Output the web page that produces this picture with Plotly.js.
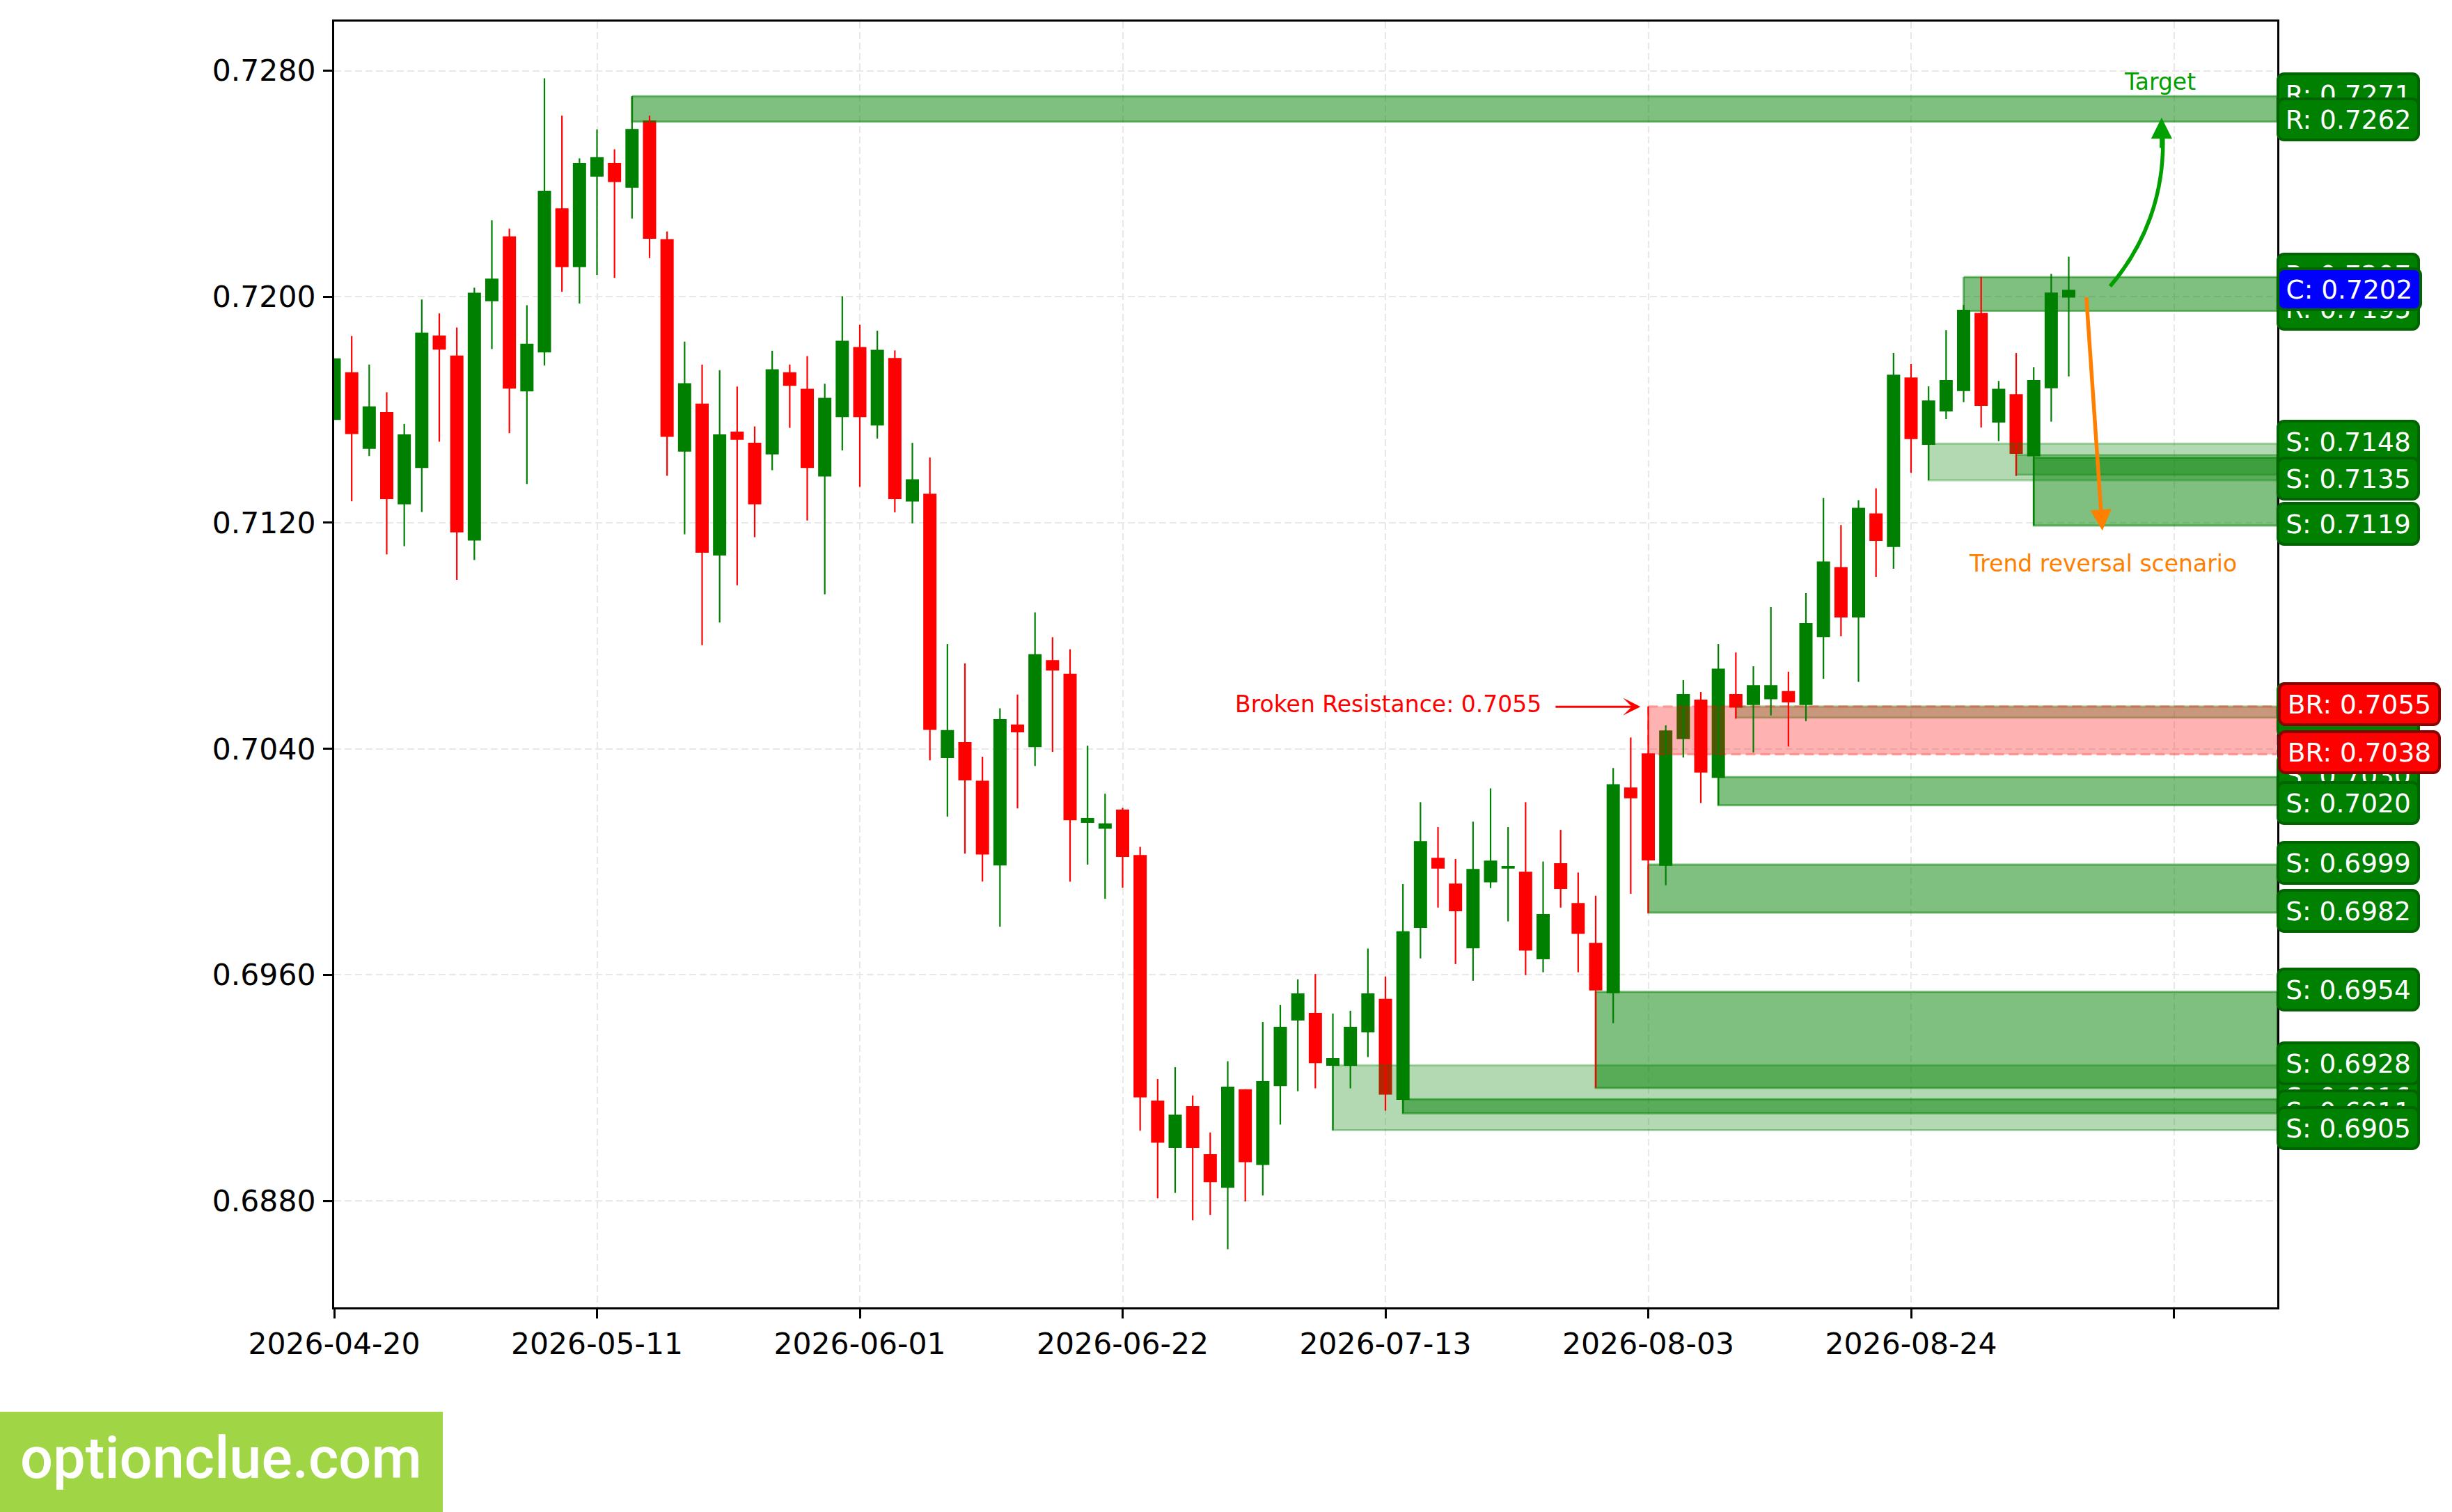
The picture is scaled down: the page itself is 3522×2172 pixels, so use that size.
<!DOCTYPE html>
<html>
<head>
<meta charset="utf-8">
<script src="https://cdn.plot.ly/plotly-3.0.1.min.js"></script>
<style>
	html, body { margin: 0; padding: 0; background: #ffffff; }
</style>
</head>
<body>
<div id="chart" style="width:3522px;height:2172px"></div>
<script>
const opens = [
	0.71564, 0.71733, 0.71462, 0.71592, 0.71265, 0.71394, 0.71863, 0.71792, 0.71137, 0.71984,
	0.72214, 0.71665, 0.71803, 0.72313, 0.72105, 0.72425, 0.72474, 0.72386, 0.72624, 0.72204,
	0.71452, 0.71622, 0.71084, 0.71523, 0.71483, 0.71442, 0.71733, 0.71674, 0.71364, 0.71574,
	0.71822, 0.71544, 0.71783, 0.71275, 0.71303, 0.70367, 0.70424, 0.70287, 0.69987, 0.70486,
	0.70406, 0.70714, 0.70666, 0.70138, 0.70117, 0.70185, 0.70024, 0.69155, 0.68987, 0.69135,
	0.68965, 0.68846, 0.69195, 0.68927, 0.69206, 0.69438, 0.69465, 0.69278, 0.69278, 0.69396,
	0.69515, 0.69157, 0.69766, 0.70014, 0.69923, 0.69694, 0.69927, 0.69976, 0.69965, 0.69655,
	0.69995, 0.69854, 0.69713, 0.69535, 0.70263, 0.70384, 0.69986, 0.70434, 0.70574, 0.70297,
	0.70594, 0.70555, 0.70575, 0.70604, 0.70555, 0.70795, 0.71043, 0.70865, 0.71233, 0.71114,
	0.71714, 0.71476, 0.71594, 0.71666, 0.71943, 0.71555, 0.71655, 0.71435, 0.71676, 0.71997
];
const highs = [
	0.71782, 0.71861, 0.71760, 0.71662, 0.71550, 0.71990, 0.71941, 0.71891, 0.72032, 0.72271,
	0.72241, 0.71970, 0.72773, 0.72641, 0.72490, 0.72592, 0.72522, 0.72710, 0.72641, 0.72231,
	0.71841, 0.71760, 0.71740, 0.71682, 0.71541, 0.71809, 0.71760, 0.71790, 0.71692, 0.72002,
	0.71901, 0.71880, 0.71810, 0.71483, 0.71431, 0.70771, 0.70702, 0.70372, 0.70543, 0.70592,
	0.70883, 0.70795, 0.70752, 0.70411, 0.70241, 0.70191, 0.70053, 0.69231, 0.69273, 0.69173,
	0.69042, 0.69294, 0.69195, 0.69433, 0.69493, 0.69584, 0.69603, 0.69463, 0.69473, 0.69693,
	0.69594, 0.69921, 0.70211, 0.70123, 0.70010, 0.70142, 0.70260, 0.70123, 0.70211, 0.70001,
	0.70113, 0.69962, 0.69880, 0.70332, 0.70440, 0.70550, 0.70483, 0.70643, 0.70601, 0.70771,
	0.70741, 0.70692, 0.70902, 0.70673, 0.70951, 0.71288, 0.71192, 0.71280, 0.71322, 0.71801,
	0.71762, 0.71683, 0.71882, 0.71971, 0.72070, 0.71702, 0.71801, 0.71751, 0.72081, 0.72142
];
const lows = [
	0.71564, 0.71276, 0.71436, 0.71088, 0.71117, 0.71238, 0.71487, 0.70998, 0.71068, 0.71815,
	0.71517, 0.71337, 0.71757, 0.72018, 0.71976, 0.72077, 0.72067, 0.72277, 0.72137, 0.71366,
	0.71159, 0.70767, 0.70847, 0.70979, 0.71149, 0.71386, 0.71536, 0.71208, 0.70947, 0.71456,
	0.71327, 0.71498, 0.71237, 0.71198, 0.70359, 0.70160, 0.70029, 0.69930, 0.69770, 0.70189,
	0.70339, 0.70389, 0.69930, 0.69990, 0.69869, 0.69908, 0.69048, 0.68809, 0.68828, 0.68731,
	0.68750, 0.68629, 0.68798, 0.68819, 0.69070, 0.69188, 0.69198, 0.69050, 0.69198, 0.69309,
	0.69119, 0.69110, 0.69658, 0.69838, 0.69638, 0.69579, 0.69907, 0.69789, 0.69599, 0.69609,
	0.69838, 0.69609, 0.69200, 0.69429, 0.69887, 0.69818, 0.69917, 0.70369, 0.70208, 0.70200,
	0.70507, 0.70387, 0.70518, 0.70408, 0.70498, 0.70648, 0.70798, 0.70637, 0.71008, 0.71037,
	0.71377, 0.71350, 0.71567, 0.71627, 0.71537, 0.71489, 0.71366, 0.71190, 0.71558, 0.71718
];
const closes = [
	0.71782, 0.71514, 0.71612, 0.71284, 0.71513, 0.71873, 0.71813, 0.71166, 0.72014, 0.72064,
	0.71675, 0.71834, 0.72375, 0.72105, 0.72474, 0.72494, 0.72406, 0.72594, 0.72205, 0.71504,
	0.71694, 0.71094, 0.71513, 0.71494, 0.71265, 0.71743, 0.71685, 0.71394, 0.71642, 0.71844,
	0.71574, 0.71812, 0.71284, 0.71354, 0.70467, 0.70466, 0.70288, 0.70026, 0.70505, 0.70458,
	0.70735, 0.70677, 0.70147, 0.70155, 0.70136, 0.70017, 0.69166, 0.69006, 0.69105, 0.68987,
	0.68866, 0.69204, 0.68937, 0.69224, 0.69416, 0.69534, 0.69287, 0.69305, 0.69416, 0.69534,
	0.69176, 0.69754, 0.70073, 0.69976, 0.69825, 0.69975, 0.70004, 0.69985, 0.69686, 0.69815,
	0.69904, 0.69745, 0.69545, 0.70275, 0.70225, 0.70005, 0.70465, 0.70594, 0.70316, 0.70684,
	0.70546, 0.70625, 0.70625, 0.70564, 0.70845, 0.71063, 0.70865, 0.71253, 0.71136, 0.71724,
	0.71496, 0.71633, 0.71705, 0.71954, 0.71614, 0.71674, 0.71444, 0.71705, 0.72015, 0.72025
];

const xTickPos = [0, 15, 30, 45, 60, 75, 90, 105];
const xTickText = ["2026-04-20", "2026-05-11", "2026-06-01", "2026-06-22", "2026-07-13", "2026-08-03", "2026-08-24", ""];
const yTicks = [0.6880, 0.6960, 0.7040, 0.7120, 0.7200, 0.7280];

// zones: first candle, top price, bottom price, fill alpha
const zoneStart = [17, 93, 91, 96, 97, 80, 79, 75, 72, 57, 61];
const zoneTop = [0.7271, 0.7207, 0.7148, 0.7144, 0.7143, 0.7055, 0.7030, 0.6999, 0.6954, 0.6928, 0.6916];
const zoneBottom = [0.7262, 0.7195, 0.7135, 0.7137, 0.7119, 0.7051, 0.7020, 0.6982, 0.6920, 0.6905, 0.6911];
const zoneAlpha = [0.5, 0.5, 0.3, 0.3, 0.5, 0.3, 0.5, 0.5, 0.5, 0.3, 0.5];

// price tags in drawing order, last one on top
const tagPrefix = ["R", "R", "R", "R", "S", "S", "S", "S", "S", "S", "S", "S", "S", "S", "S", "S", "S", "S", "S", "S", "S", "S", "BR", "BR", "C"];
const tagPrice = [0.7271, 0.7262, 0.7207, 0.7195, 0.7144, 0.7143, 0.7137, 0.7148, 0.7135, 0.7119, 0.7055, 0.7051, 0.7030, 0.7020, 0.6999, 0.6982, 0.6954, 0.6920, 0.6916, 0.6911, 0.6905, 0.6928, 0.7055, 0.7038, 0.7202];

const xEnd = 110.9;
const brokenStart = 75;
const brokenTop = 0.7055;
const brokenBottom = 0.7038;

function zoneTrace(start, top, bottom, col, dash) {
	return {
		type: "scatter", mode: "lines", hoverinfo: "skip",
		x: [start, xEnd, xEnd, start, start],
		y: [top, top, bottom, bottom, top],
		fill: "toself", fillcolor: col,
		line: {color: col, width: 3, dash: dash}
	};
}

function wickTrace(col, wanted) {
	let x = [], y = [];
	for (let i = 1; i < opens.length; i++) {
		if (wanted(i)) {
			x.push(i, i, null);
			y.push(highs[i], lows[i], null);
		}
	}
	return {type: "scatter", mode: "lines", hoverinfo: "skip", x: x, y: y, line: {color: col, width: 2.2}};
}

// bodies lie under the zones, wicks on top of them
let traces = [{
	type: "candlestick",
	x: opens.map((v, i) => i),
	open: opens, high: highs, low: lows, close: closes,
	whiskerwidth: 0,
	increasing: {line: {color: "#008000", width: 0}, fillcolor: "#008000"},
	decreasing: {line: {color: "#ff0000", width: 0}, fillcolor: "#ff0000"},
	hoverinfo: "skip"
}];
for (let i = 0; i < zoneStart.length; i++) {
	traces.push(zoneTrace(zoneStart[i], zoneTop[i], zoneBottom[i], "rgba(0,128,0," + zoneAlpha[i] + ")", "solid"));
}
traces.push(zoneTrace(brokenStart, brokenTop, brokenBottom, "rgba(255,0,0,0.3)", "14px,7px"));
traces.push(wickTrace("#008000", i => closes[i] >= opens[i]));
traces.push(wickTrace("#ff0000", i => closes[i] < opens[i]));

let shapes = [];
// curved target arrow
shapes.push({
	type: "path", xref: "x", yref: "y", layer: "above",
	path: "M 101.36 0.72037 C 103.34 0.72181 104.47 0.72361 104.37 0.7257",
	line: {color: "#00a000", width: 5.5}
});
// watermark box
shapes.push({
	type: "rect", xref: "paper", yref: "paper", layer: "above",
	x0: -480 / 2791, x1: 156 / 2791, y0: -294 / 1847, y1: -150 / 1847,
	fillcolor: "#a0d646",
	line: {width: 0}
});

let annotations = [];
for (let i = 0; i < tagPrice.length; i++) {
	let kind = tagPrefix[i];
	annotations.push({
		xref: "paper", yref: "y", x: 1, xshift: kind == "BR" ? 1 : -1, yshift: 3, y: tagPrice[i],
		xanchor: "left", yanchor: "middle", showarrow: false,
		text: kind + ": " + tagPrice[i].toFixed(4),
		font: {family: "DejaVu Sans", size: 37.5, color: "#ffffff"},
		bgcolor: kind == "BR" ? "#ff0000" : (kind == "C" ? "#0000ff" : "#008000"),
		bordercolor: kind == "BR" ? "#8b0000" : "#006400",
		borderwidth: 4,
		borderpad: 0,
		width: kind == "BR" ? 226 : (kind == "C" ? 201 : 198),
		height: 55
	});
}
annotations.push({
	xref: "x", yref: "y", x: 68.96, y: 0.70559, xanchor: "right", yanchor: "middle", showarrow: false,
	text: "Broken Resistance: 0.7055", font: {family: "DejaVu Sans", size: 33, color: "#ff0000"}
});
annotations.push({
	xref: "x", yref: "y", x: 74.56, y: 0.70549, axref: "x", ayref: "y", ax: 69.65, ay: 0.70549,
	text: "", showarrow: true, arrowhead: 3, arrowsize: 1.4, arrowwidth: 3, arrowcolor: "#ff0000"
});
annotations.push({
	xref: "x", yref: "y", x: 104.2, y: 0.72762, xanchor: "center", yanchor: "middle", showarrow: false,
	text: "Target", font: {family: "DejaVu Sans", size: 33, color: "#00a000"}
});
annotations.push({
	xref: "x", yref: "y", x: 104.3, y: 0.72634, ax: 0, ay: 45,
	text: "", showarrow: true, arrowhead: 2, arrowsize: 1.1, arrowwidth: 5.5, arrowcolor: "#00a000"
});
annotations.push({
	xref: "x", yref: "y", x: 100.96, y: 0.71057, xanchor: "center", yanchor: "middle", showarrow: false,
	text: "Trend reversal scenario", font: {family: "DejaVu Sans", size: 33, color: "#ff8000"}
});
annotations.push({
	xref: "x", yref: "y", x: 100.92, y: 0.71172, axref: "x", ayref: "y", ax: 100, ay: 0.72002,
	text: "", showarrow: true, arrowhead: 2, arrowsize: 1.1, arrowwidth: 5.5, arrowcolor: "#ff8000"
});
annotations.push({
	xref: "paper", yref: "paper", x: -162.5 / 2791, y: -216 / 1847,
	xanchor: "center", yanchor: "middle", showarrow: false,
	text: "optionclue.com", font: {family: "Roboto", size: 83, weight: 500, color: "#ffffff"}
});

let layout = {
	width: 3522, height: 2172,
	paper_bgcolor: "#ffffff", plot_bgcolor: "#ffffff",
	margin: {l: 480, r: 251, t: 31, b: 294, pad: 0},
	showlegend: false,
	boxgap: 0.245,
	boxgroupgap: 0,
	font: {family: "DejaVu Sans", size: 42.5, color: "#000000"},
	xaxis: {
		type: "linear", range: [0, xEnd],
		tickmode: "array", tickvals: xTickPos, ticktext: xTickText,
		ticks: "outside", ticklen: 13, tickwidth: 3, tickcolor: "#000000",
		showgrid: true, gridcolor: "#e8e8e8", gridwidth: 2, griddash: "10px,5px",
		showline: true, linecolor: "#000000", linewidth: 3, mirror: true,
		zeroline: false,
		rangeslider: {visible: false}
	},
	yaxis: {
		type: "linear", range: [0.68423, 0.72974],
		tickmode: "array", tickvals: yTicks, ticktext: yTicks.map(v => v.toFixed(4)),
		ticks: "outside", ticklen: 13, tickwidth: 3, tickcolor: "#000000", ticklabelstandoff: 2,
		showgrid: true, gridcolor: "#e8e8e8", gridwidth: 2, griddash: "10px,5px",
		showline: true, linecolor: "#000000", linewidth: 3, mirror: true,
		zeroline: false
	},
	shapes: shapes,
	annotations: annotations
};

Plotly.newPlot("chart", traces, layout, {displayModeBar: false, staticPlot: true}).then(function() {
	// the price tags have rounded corners
	document.querySelectorAll(".annotation rect.bg").forEach(function(r) {
		r.setAttribute("rx", 9);
		r.setAttribute("ry", 9);
	});
});
</script>
</body>
</html>
